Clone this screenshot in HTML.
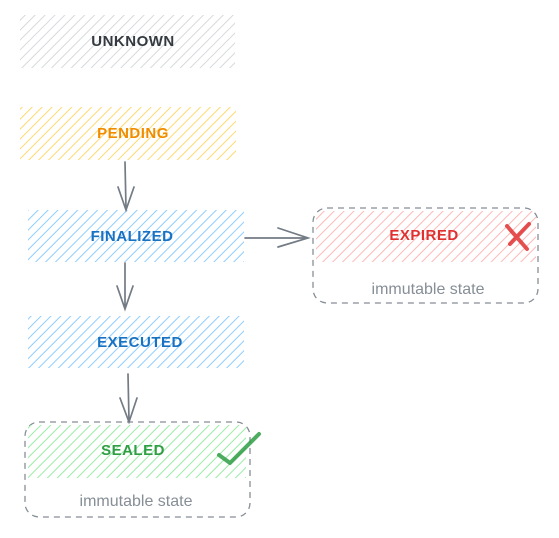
<!DOCTYPE html>
<html><head><meta charset="utf-8"><style>
html,body{margin:0;padding:0;background:#fff;}
svg{display:block;}
text{font-family:"Liberation Sans",sans-serif;font-weight:bold;}
</style></head><body>
<svg width="559" height="538" viewBox="0 0 559 538" xmlns="http://www.w3.org/2000/svg">
<defs>
<pattern id="hg" width="7" height="7" patternUnits="userSpaceOnUse" patternTransform="rotate(45)"><line x1="0" y1="0" x2="0" y2="7" stroke="#d6dadd" stroke-width="2"/></pattern>
<pattern id="hy" width="7" height="7" patternUnits="userSpaceOnUse" patternTransform="rotate(45)"><line x1="0" y1="0" x2="0" y2="7" stroke="#ffd970" stroke-width="2"/></pattern>
<pattern id="hb" width="7" height="7" patternUnits="userSpaceOnUse" patternTransform="rotate(45)"><line x1="0" y1="0" x2="0" y2="7" stroke="#8fcdff" stroke-width="2"/></pattern>
<pattern id="hgr" width="7" height="7" patternUnits="userSpaceOnUse" patternTransform="rotate(45)"><line x1="0" y1="0" x2="0" y2="7" stroke="#9aeca5" stroke-width="2"/></pattern>
<pattern id="hr" width="7" height="7" patternUnits="userSpaceOnUse" patternTransform="rotate(45)"><line x1="0" y1="0" x2="0" y2="7" stroke="#ffb8b8" stroke-width="2"/></pattern>
</defs>
<rect x="20" y="15" width="215" height="53" fill="url(#hg)"/>
<rect x="20" y="107" width="216" height="53" fill="url(#hy)"/>
<rect x="28" y="210" width="216" height="52" fill="url(#hb)"/>
<rect x="28" y="316" width="216" height="52" fill="url(#hb)"/>
<rect x="25" y="422" width="225" height="95" rx="14" fill="none" stroke="#868e96" stroke-width="1.3" stroke-dasharray="6 5"/>
<rect x="28" y="425" width="218" height="53" fill="url(#hgr)"/>
<rect x="313" y="208" width="225" height="95" rx="14" fill="none" stroke="#868e96" stroke-width="1.3" stroke-dasharray="6 5"/>
<rect x="316" y="211" width="220" height="51" fill="url(#hr)"/>
<g font-size="15" text-anchor="middle" letter-spacing="0.5">
<text x="133" y="46" fill="#343a40">UNKNOWN</text>
<text x="133" y="138" fill="#f08c00">PENDING</text>
<text x="132" y="241" fill="#1971c2">FINALIZED</text>
<text x="140" y="347" fill="#1971c2">EXECUTED</text>
<text x="133" y="455" fill="#2f9e44">SEALED</text>
<text x="424" y="240" fill="#e03131">EXPIRED</text>
</g>
<g font-size="16" text-anchor="middle" fill="#868e96">
<text x="136" y="506" style="font-weight:normal">immutable state</text>
<text x="428" y="294" style="font-weight:normal">immutable state</text>
</g>
<g stroke="#737b84" stroke-width="1.7" fill="none" stroke-linecap="round">
<path d="M125 162 L126 209 M118 187 L126 210 L134 187"/>
<path d="M125 263 L125 308 M117 286 L125 309 L133 286"/>
<path d="M128 374 L129 421 M120 398 L129 422 L137 398"/>
<path d="M245 238 L307 238 M278 228 L308 238 L278 247"/>
</g>
<path d="M507 226 L527 249 M529 224 L510 244" stroke="#e03131" stroke-width="4" stroke-linecap="round" fill="none" opacity="0.85"/>
<path d="M219 455 L230 463 L259 434" stroke="#2f9e44" stroke-width="4" stroke-linecap="round" stroke-linejoin="round" fill="none" opacity="0.85"/>
</svg>
</body></html>
